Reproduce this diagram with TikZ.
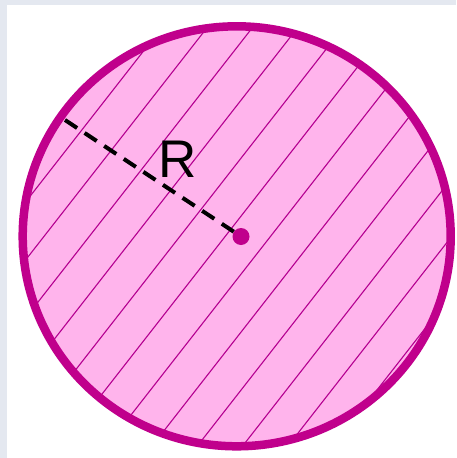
\documentclass[tikz,border=0pt]{standalone}
\usepackage{fontspec}
\setmainfont{Liberation Sans}
\definecolor{pinkfill}{HTML}{FFB4EC}
\definecolor{rimcol}{HTML}{C0008C}
\definecolor{hatchcol}{HTML}{B40090}
\definecolor{framecol}{HTML}{E4E8F0}
\tikzset{
  rim/.style={draw=rimcol, line width=8.5pt},
  hatchline/.style={draw=hatchcol, line width=1.1pt},
  radiusline/.style={draw=black, line width=4pt, dash pattern=on 14.5pt off 9pt},
  centredot/.style={circle, fill=rimcol, minimum size=17pt, inner sep=0pt},
  label/.style={font=\fontsize{53}{60}\selectfont, inner sep=0pt, text=black}
}
\begin{document}
\begin{tikzpicture}[x=1pt, y=-1pt]
\useasboundingbox (0,0) rectangle (456,458);
\fill[framecol] (0,0) rectangle (456,458);
\fill[white] (7,5) rectangle (456,458);
% disc
\fill[pinkfill] (236.7,236.3) ellipse [x radius=214pt, y radius=210pt];
\begin{scope}
  \clip (236.7,236.3) ellipse [x radius=214pt, y radius=210pt];
  \foreach \k in {-10,...,4} {
    \draw[hatchline] ({545.8+45.3*\k+7.8},-10) -- ({545.8+45.3*\k-367.2},470);
  }
\end{scope}
\draw[rim] (236.7,236.3) ellipse [x radius=214pt, y radius=210pt];
% radius
\node[centredot] (c) at (241,236.5) {};
\coordinate (e) at (65,120);
\draw[radiusline] (e) -- (c);
\node[label] (r) at (178,159) {R};
\end{tikzpicture}
\end{document}
